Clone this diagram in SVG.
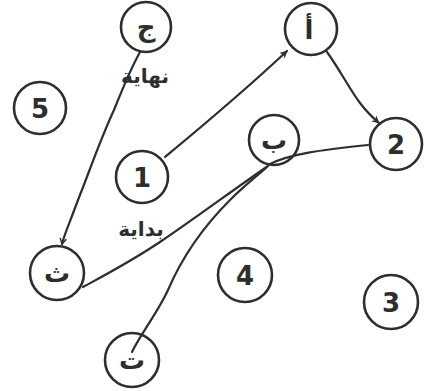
<svg xmlns="http://www.w3.org/2000/svg" width="430" height="391" viewBox="0 0 430 391">
<style>
.n circle{fill:none;stroke:#2e2e2e;stroke-width:2.6}
.n text{font-family:"DejaVu Sans",sans-serif;fill:#2e2e2e;text-anchor:middle}
.d{font-size:26px;font-weight:bold}
.a{font-size:26px;font-weight:bold}
.lbl{font-family:"DejaVu Sans",sans-serif;font-size:20px;font-weight:bold;fill:#2e2e2e;text-anchor:middle}
#edges path{fill:none;stroke:#2e2e2e;stroke-width:2.2;stroke-linecap:round}
</style>
<defs>
<marker id="ah" viewBox="0 0 10 10" refX="9" refY="5" markerWidth="8" markerHeight="8" orient="auto" markerUnits="userSpaceOnUse">
<path d="M0,0 L10,5 L0,10 L3,5 Z" fill="#2e2e2e"/>
</marker>
<marker id="hk" viewBox="0 0 10 10" refX="9" refY="5" markerWidth="8" markerHeight="8" orient="auto" markerUnits="userSpaceOnUse">
<path d="M2,1 L9,5 L2,9" fill="none" stroke="#2e2e2e" stroke-width="1.8"/>
</marker>
</defs>
<rect width="430" height="391" fill="#fff"/>
<g id="edges">
<path d="M165,157 C200,128 240,95 287,51" marker-end="url(#ah)"/>
<path d="M327,52 C340,70 350,90 360,103 C366,111 372,117 379,123" marker-end="url(#ah)"/>
<path d="M270,164 C290,154 320,150 368,145"/>
<path d="M268,166 C240,185 190,222 160,242 C130,262 105,275 83,287"/>
<path d="M132,352 C140,335 158,312 168,290 C180,262 200,230 230,200 C245,185 258,175 266,168"/>
<path d="M140,52 C130,70 124,85 114,110 C100,140 90,170 78,200 C70,222 64,235 62,244" marker-end="url(#hk)"/>
</g>
<g id="n-jeem" class="n"><circle cx="146" cy="27" r="25"/><text class="a" x="146" y="36">ج</text></g>
<g id="n-alif" class="n"><circle cx="311" cy="29" r="26"/><text class="a" x="309" y="39">أ</text></g>
<g id="n-2" class="n"><circle cx="396" cy="144" r="26"/><text class="d" x="396" y="154">2</text></g>
<g id="n-ba" class="n"><circle cx="274" cy="140" r="25"/><text class="a" x="274" y="149">ب</text></g>
<g id="n-1" class="n"><circle cx="142" cy="177" r="26"/><text class="d" x="142" y="187">1</text></g>
<g id="n-5" class="n"><circle cx="40" cy="108" r="26"/><text class="d" x="40" y="118">5</text></g>
<g id="n-tha" class="n"><circle cx="57" cy="273" r="27"/><text class="a" x="57" y="282">ث</text></g>
<g id="n-ta" class="n"><circle cx="132" cy="360" r="27"/><text class="a" x="132" y="369">ت</text></g>
<g id="n-4" class="n"><circle cx="245" cy="275" r="27"/><text class="d" x="245" y="285">4</text></g>
<g id="n-3" class="n"><circle cx="391" cy="302" r="27"/><text class="d" x="391" y="312">3</text></g>
<text class="lbl" x="145" y="83">نهاية</text>
<text class="lbl" x="141" y="236">بداية</text>
</svg>
